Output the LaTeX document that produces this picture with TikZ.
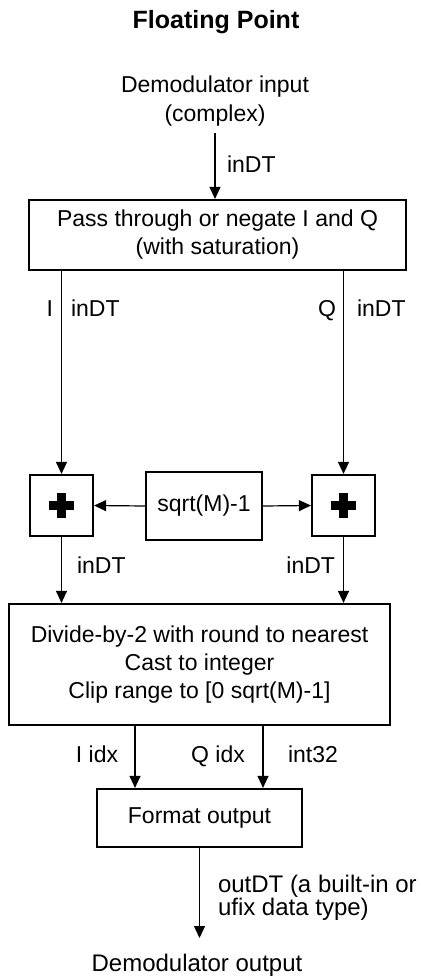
\documentclass[tikz,border=0pt]{standalone}
\usepackage{fontspec}
\setmainfont{Liberation Sans}
\usetikzlibrary{arrows.meta}
\begin{document}
\begin{tikzpicture}[x=1pt,y=-1pt,
  box/.style={draw, line width=2.3pt, inner sep=0pt, outer sep=1.1pt, align=center,
    font=\fontsize{23}{28}\selectfont},
  plusbox/.style={draw, line width=2.3pt, inner sep=0pt, outer sep=1.1pt,
    minimum width=63pt, minimum height=61pt,
    path picture={
      \fill ([xshift=-12.5pt,yshift=-4.6pt]path picture bounding box.center) rectangle ([xshift=12.5pt,yshift=4.6pt]path picture bounding box.center);
      \fill ([xshift=-4.6pt,yshift=-12.5pt]path picture bounding box.center) rectangle ([xshift=4.6pt,yshift=12.5pt]path picture bounding box.center);
    }},
  arr/.style={line width=1.2pt, -{Triangle[length=12pt,width=11pt]}},
  lbl/.style={inner sep=0pt, outer sep=0pt, font=\fontsize{23}{23}\selectfont},
  biglbl/.style={inner sep=0pt, outer sep=0pt, align=center, font=\fontsize{24}{23}\selectfont},
]
\useasboundingbox (0,0) rectangle (420,976);

% title
\node[inner sep=0pt, anchor=base, font=\fontsize{25}{30}\selectfont\bfseries] (title) at (216,29) {Floating Point};

% input
\node[inner sep=0pt, align=center, font=\fontsize{23}{29}\selectfont] (inp) at (215,101.5) {Demodulator input\\(complex)};
\coordinate (intail) at (215,133);

% boxes
\node[box, minimum width=377pt, minimum height=70pt] (b1) at (217.5,235) {Pass through or negate I and Q\\(with saturation)};
\node[plusbox] (lp) at (61.5,505.5) {};
\node[box, minimum width=116pt, minimum height=68pt] (sq) at (204,506) {sqrt(M)-1};
\node[plusbox] (rp) at (343.5,505.5) {};
\node[box, minimum width=381pt, minimum height=121pt] (b3) at (199.5,664.5) {Divide-by-2 with round to nearest\\Cast to integer\\Clip range to [0 sqrt(M)-1]};
\node[box, minimum width=205pt, minimum height=58pt] (fmt) at (199.5,818) {Format output};

% output
\coordinate (outtip) at (199.5,938);
\node[biglbl, anchor=base] (outp) at (197,971) {Demodulator output};

% connectors
\draw[arr] (intail) -- (intail |- b1.north);
\draw[arr] (lp.north |- b1.south) -- (lp.north);
\draw[arr] (rp.north |- b1.south) -- (rp.north);
\draw[arr] (sq.west) -- (lp.east);
\draw[arr] (sq.east) -- (rp.west);
\draw[arr] (lp.south) -- (lp.south |- b3.north);
\draw[arr] (rp.south) -- (rp.south |- b3.north);
\draw[arr] ([xshift=-64.5pt]fmt.north |- b3.south) -- ([xshift=-64.5pt]fmt.north);
\draw[arr] ([xshift=63.5pt]fmt.north |- b3.south) -- ([xshift=63.5pt]fmt.north);
\draw[arr] (fmt.south) -- (outtip);

% labels
\node[lbl, anchor=base west] (l1) at (227,173) {inDT};
\node[lbl, anchor=base east] (l2) at (53,316) {I};
\node[lbl, anchor=base west] (l3) at (71,316) {inDT};
\node[lbl, anchor=base east] (l4) at (336,316) {Q};
\node[lbl, anchor=base west] (l5) at (357,316) {inDT};
\node[lbl, anchor=base west] (l6) at (77,573) {inDT};
\node[lbl, anchor=base east] (l7) at (335,573) {inDT};
\node[lbl, anchor=base] (l8) at (97,762) {I idx};
\node[lbl, anchor=base] (l9) at (218,762) {Q idx};
\node[lbl, anchor=base west] (l10) at (288,762) {int32};
\node[biglbl, align=left, anchor=west] (l11) at (218,897.5) {outDT (a built-in or\\ufix data type)};
\end{tikzpicture}
\end{document}
